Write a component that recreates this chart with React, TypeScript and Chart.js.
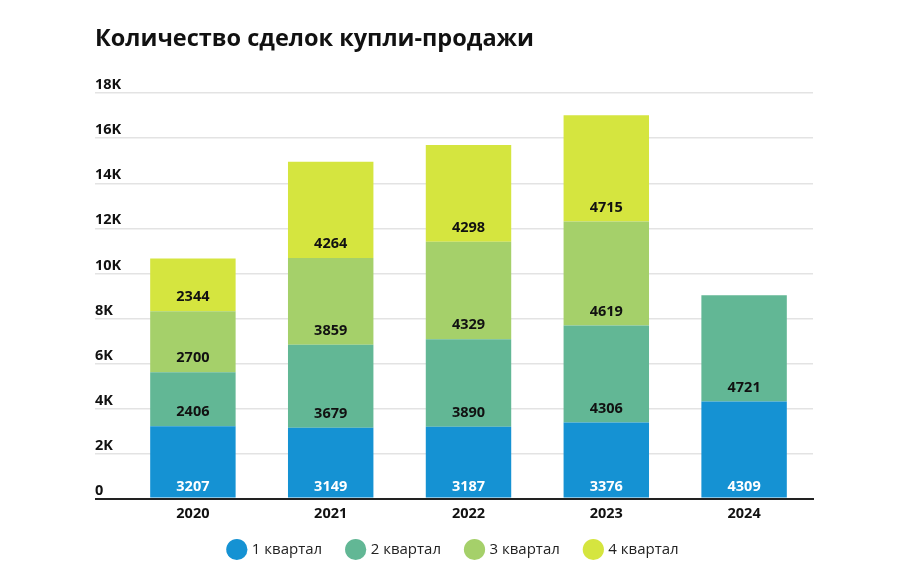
import React, { useEffect, useRef } from "react";
import { Chart, registerables } from "chart.js";

Chart.register(...registerables);

const years = ["2020", "2021", "2022", "2023", "2024"];
const q1 = [3207, 3149, 3187, 3376, 4309];
const q2 = [2406, 3679, 3890, 4306, 4721];
const q3 = [2700, 3859, 4329, 4619, null];
const q4 = [2344, 4264, 4298, 4715, null];
const seriesNames = ["1 квартал", "2 квартал", "3 квартал", "4 квартал"];
const seriesColors = ["#1592d3", "#62b795", "#a5d06a", "#d5e53f"];
const titleText = "Количество сделок купли-продажи";

const FONT = "'Open Sans', 'Noto Sans', sans-serif";

const labelPlugin = {
  id: "segLabels",
  afterDatasetsDraw(chart: any) {
    const ctx = chart.ctx;
    ctx.save();
    ctx.font = `bold 14.5px ${FONT}`;
    ctx.textAlign = "center";
    ctx.textBaseline = "middle";
    chart.data.datasets.forEach((ds: any, di: number) => {
      const meta = chart.getDatasetMeta(di);
      meta.data.forEach((el: any, i: number) => {
        const v = ds.data[i];
        if (v === null || v === undefined) return;
        ctx.fillStyle = di === 0 ? "#ffffff" : "#111111";
        ctx.fillText(String(v), el.x, el.base - (di === 0 ? 11 : 14));
      });
    });
    ctx.restore();
  },
};

const legendShift = {
  id: "legendShift",
  afterLayout(chart: any) {
    const lg = chart.legend;
    if (lg) {
      lg.top -= 14;
      lg.bottom -= 14;
    }
  },
};

export default function App() {
  const ref = useRef<HTMLCanvasElement>(null);
  useEffect(() => {
    document.body.style.margin = "0";
    const data = [q1, q2, q3, q4];
    const chart = new Chart(ref.current!, {
      type: "bar",
      data: {
        labels: years,
        datasets: data.map((d, i) => ({
          label: seriesNames[i],
          data: d,
          backgroundColor: seriesColors[i],
          borderWidth: 0,
          categoryPercentage: 1,
          barPercentage: 0.62,
        })),
      },
      options: {
        animation: false,
        responsive: false,
        layout: { padding: { left: 95, right: 92, top: 0, bottom: 6 } },
        plugins: {
          title: {
            display: true,
            text: titleText,
            align: "start",
            color: "#111",
            font: { family: FONT, size: 23.5, weight: "bold" },
            padding: { top: 25, bottom: 40 },
          },
          legend: {
            position: "bottom",
            labels: {
              usePointStyle: true,
              pointStyle: "circle",
              boxWidth: 16,
              boxHeight: 16,
              padding: 26,
              color: "#222",
              font: { family: FONT, size: 15 },
            },
          },
          tooltip: { enabled: false },
        },
        scales: {
          x: {
            stacked: true,
            grid: { display: false, drawTicks: false },
            border: { display: true, color: "#222", width: 2 },
            ticks: {
              color: "#111",
              padding: 7,
              font: { family: FONT, size: 14.5, weight: "bold" },
            },
          },
          y: {
            stacked: true,
            min: 0,
            max: 18000,
            afterFit(scale: any) {
              scale.width = 29;
            },
            grid: {
              color: (c: any) => (c.tick && c.tick.value === 0 ? "#222" : "#e3e3e3"),
              lineWidth: (c: any) => (c.tick && c.tick.value === 0 ? 2 : 1.5),
              tickColor: (c: any) => (c.tick && c.tick.value === 0 ? "#222" : "#e3e3e3"),
              tickWidth: (c: any) => (c.tick && c.tick.value === 0 ? 2 : 1.5),
              tickLength: 29,
            },
            border: { display: false },
            ticks: {
              stepSize: 2000,
              crossAlign: "far",
              labelOffset: -8,
              color: "#111",
              font: { family: FONT, size: 14.5, weight: "bold" },
              callback: (v: any) => (v === 0 ? "0" : v / 1000 + "K"),
            },
          },
        },
      },
      plugins: [labelPlugin, legendShift],
    });
    return () => chart.destroy();
  }, []);
  return <canvas ref={ref} width={905} height={587} style={{ display: "block" }} />;
}
